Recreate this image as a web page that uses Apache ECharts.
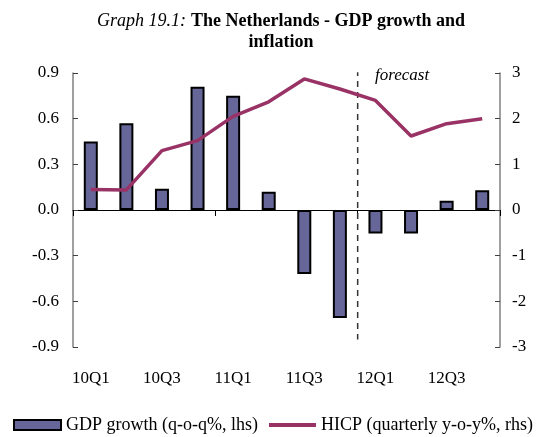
<!DOCTYPE html>
<html>
<head>
<meta charset="utf-8">
<script src="https://cdn.jsdelivr.net/npm/echarts@6/dist/echarts.min.js"></script>
<style>
  html, body { margin: 0; padding: 0; background: #fff; }
  #chart { width: 536px; height: 437px; }
</style>
</head>
<body>
<div id="chart"></div>
<script>
const quarters = ["10Q1", "10Q2", "10Q3", "10Q4", "11Q1", "11Q2", "11Q3", "11Q4", "12Q1", "12Q2", "12Q3", "12Q4"];
const gdpGrowth = [0.45, 0.57, 0.14, 0.81, 0.75, 0.12, -0.42, -0.71, -0.155, -0.155, 0.06, 0.13];
const hicp = [0.45, 0.44, 1.3, 1.52, 2.05, 2.37, 2.87, 2.65, 2.4, 1.62, 1.89, 2.0];
const forecastStart = 8; // boundary between 11Q4 and 12Q1
const forecastSpan = [0.92, -0.85];

const font = "Liberation Serif";
const chart = echarts.init(document.getElementById("chart"));

chart.setOption({
  animation: false,
  title: {
    text: "{i|Graph 19.1:} {b|The Netherlands - GDP growth and}\n{b|inflation}",
    left: 276,
    textAlign: "center",
    top: 6,
    textStyle: {
      rich: {
        i: { fontFamily: font, fontStyle: "italic", fontWeight: "normal", fontSize: 18, color: "#000", lineHeight: 21 },
        b: { fontFamily: font, fontWeight: "bold", fontSize: 18, color: "#000", lineHeight: 21 }
      }
    }
  },
  legend: {
    bottom: 3,
    left: 13,
    padding: 0,
    itemWidth: 47,
    itemHeight: 10,
    itemGap: 9,
    data: [
      { name: "GDP growth (q-o-q%, lhs)", icon: "rect" },
      { name: "HICP (quarterly y-o-y%, rhs)", itemStyle: { opacity: 0 }, lineStyle: { width: 4 } }
    ],
    textStyle: { fontFamily: font, fontSize: 18, color: "#000" }
  },
  grid: { left: 73, right: 36, top: 73, bottom: 90 },
  xAxis: [
    {
      type: "category",
      data: quarters,
      position: "bottom",
      axisLine: { show: false },
      axisTick: { show: false },
      axisLabel: { interval: 1, fontFamily: font, fontSize: 17, color: "#000", margin: 23 }
    },
    {
      type: "category",
      data: quarters,
      position: "bottom",
      axisLine: { onZero: true, lineStyle: { color: "#000", width: 1 } },
      axisTick: { show: true, interval: 3, length: 6, lineStyle: { color: "#000" } },
      axisLabel: { show: false }
    },
    {
      type: "value",
      min: 0,
      max: 12,
      show: false
    }
  ],
  yAxis: [
    {
      type: "value",
      min: -0.9,
      max: 0.9,
      interval: 0.3,
      splitLine: { show: false },
      axisLine: { show: true, lineStyle: { color: "#808080", width: 1.5 } },
      axisTick: { show: true, inside: true, length: 5, lineStyle: { color: "#404040" } },
      axisLabel: {
        fontFamily: font, fontSize: 17, color: "#000", margin: 14,
        formatter: v => v.toFixed(1)
      }
    },
    {
      type: "value",
      min: -3,
      max: 3,
      interval: 1,
      splitLine: { show: false },
      axisLine: { show: true, lineStyle: { color: "#808080", width: 1.5 } },
      axisTick: { show: true, inside: true, length: 5, lineStyle: { color: "#404040" } },
      axisLabel: { fontFamily: font, fontSize: 17, color: "#000", margin: 12 }
    }
  ],
  series: [
    {
      name: "GDP growth (q-o-q%, lhs)",
      type: "bar",
      xAxisIndex: 0,
      yAxisIndex: 0,
      data: gdpGrowth,
      barWidth: 14,
      itemStyle: { color: "#666699", borderColor: "#000", borderWidth: 2 }
    },
    {
      name: "HICP (quarterly y-o-y%, rhs)",
      type: "line",
      xAxisIndex: 0,
      yAxisIndex: 1,
      data: hicp,
      symbol: "none",
      lineStyle: { color: "#993366", width: 3.5 },
      itemStyle: { color: "#993366" },
      z: 5
    },
    {
      name: "forecast",
      type: "line",
      xAxisIndex: 2,
      yAxisIndex: 0,
      data: forecastSpan.map(v => [forecastStart, v]),
      symbol: "none",
      silent: true,
      lineStyle: { color: "#333", width: 1.5, type: [6, 5] },
      z: 1
    }
  ],
  graphic: [
    {
      type: "text",
      left: 375,
      top: 67,
      style: { text: "forecast", fontFamily: font, fontStyle: "italic", fontSize: 17, fill: "#000" }
    }
  ]
});
</script>
</body>
</html>
